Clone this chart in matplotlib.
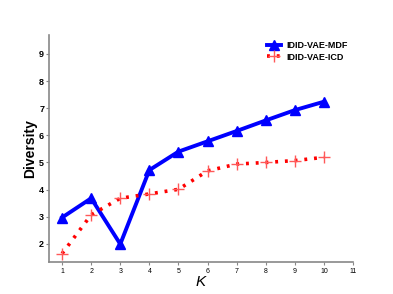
import matplotlib
matplotlib.use('Agg')
import matplotlib.pyplot as plt

plt.rcParams['font.family'] = ['Liberation Sans', 'DejaVu Sans']

k = [1, 2, 3, 4, 5, 6, 7, 8, 9, 10]
mdf = [2.97, 3.68, 1.99, 4.72, 5.40, 5.78, 6.16, 6.55, 6.93, 7.24]
icd = [1.64, 3.07, 3.68, 3.84, 4.01, 4.69, 4.94, 5.00, 5.07, 5.19]
xticks = [1, 2, 3, 4, 5, 6, 7, 8, 9, 10, 11]
yticks = [2, 3, 4, 5, 6, 7, 8, 9]

fig = plt.figure(figsize=(3.93, 2.94), dpi=100)
ax = fig.add_axes([49/393, 1-262/294, (353-49)/393, (262-35)/294])

ax.plot(k, mdf, '-^', color='blue', lw=2.8, ms=7.5, label='IDID-VAE-MDF')
ax.plot(k, icd, color='red', lw=2.6, linestyle=(0, (0.8, 1.9)),
        marker='+', ms=9, mew=1.0,
        markeredgecolor=(1, 0.35, 0.35), label='IDID-VAE-ICD')

ax.set_xlim(0.55, 11)
ax.set_ylim(1.33, 9.7)
ax.set_xticks(xticks)
ax.set_yticks(yticks)

for s in ['top', 'right']:
    ax.spines[s].set_visible(False)
for s in ['left', 'bottom']:
    ax.spines[s].set_color('#888888')
    ax.spines[s].set_linewidth(1.2)
ax.tick_params(axis='both', colors='#888888', length=2.5, width=0.8)
ax.tick_params(axis='x', labelsize=5, labelcolor='black', pad=2)
ax.tick_params(axis='y', labelsize=6.5, labelcolor='black', pad=1)
for t in ax.get_yticklabels():
    t.set_fontweight('bold')

ax.set_xlabel('K', fontsize=11, style='italic', labelpad=0)
ax.set_ylabel('Diversity', fontsize=10, fontweight='bold', labelpad=1)

ax.legend(loc='upper right', bbox_to_anchor=(1.01, 1.01), frameon=False,
          prop={'weight': 'bold', 'size': 6.5}, handlelength=1.6,
          handletextpad=0.6, labelspacing=0.3)

fig.savefig('out.png', dpi=100)
